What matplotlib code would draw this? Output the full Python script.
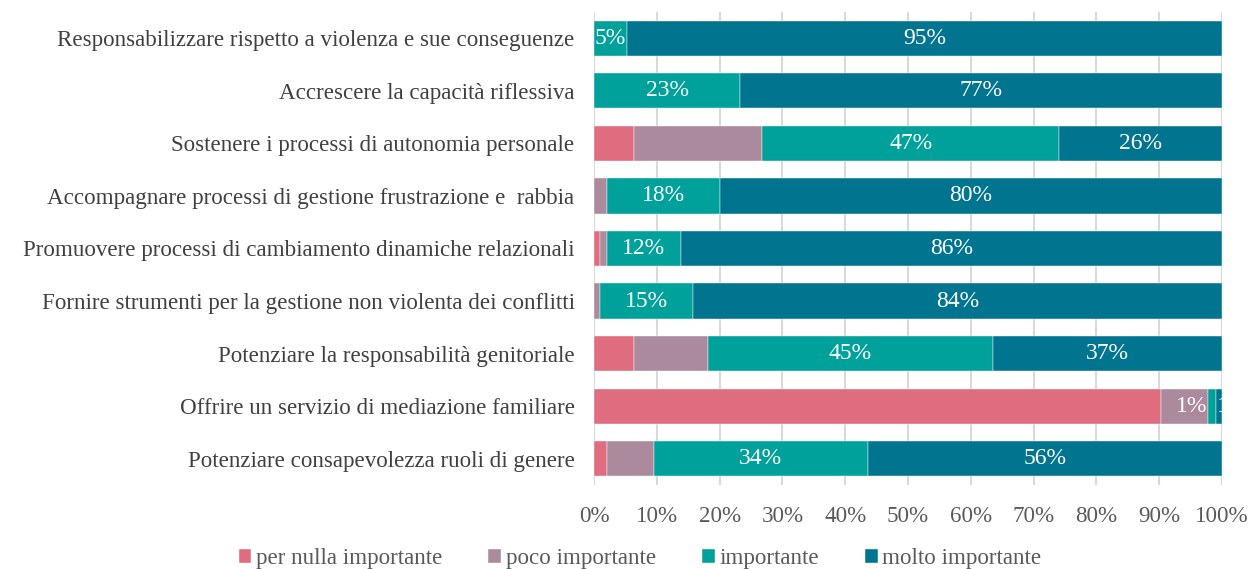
import numpy as np
import matplotlib.pyplot as plt

categories = [
    "Responsabilizzare rispetto a violenza e sue conseguenze",
    "Accrescere la capacità riflessiva",
    "Sostenere i processi di autonomia personale",
    "Accompagnare processi di gestione frustrazione e  rabbia",
    "Promuovere processi di cambiamento dinamiche relazionali",
    "Fornire strumenti per la gestione non violenta dei conflitti",
    "Potenziare la responsabilità genitoriale",
    "Offrire un servizio di mediazione familiare",
    "Potenziare consapevolezza ruoli di genere",
]
series = ["per nulla importante", "poco importante", "importante", "molto importante"]
colors = ["#E06C7F", "#AA8A9C", "#00A19A", "#01758F"]

per_nulla = [0, 0, 6.3, 0, 1, 0, 6.3, 90.3, 2.0]
poco = [0, 0, 20.5, 2.0, 1, 1, 11.9, 7.5, 7.5]
importante = [5.2, 23.3, 47.3, 18.1, 11.8, 14.8, 45.3, 1.2, 34.1]
molto = [94.8, 76.7, 25.9, 79.9, 86.2, 84.2, 36.5, 1.0, 56.4]

# labels as printed on the chart ('' = no label shown)
lab_per_nulla = ["", "", "", "", "", "", "", "", ""]
lab_poco = ["", "", "", "", "", "", "", "1%", ""]
lab_importante = ["5%", "23%", "47%", "18%", "12%", "15%", "45%", "", "34%"]
lab_molto = ["95%", "77%", "26%", "80%", "86%", "84%", "37%", "1%", "56%"]

values = [per_nulla, poco, importante, molto]
labels = [lab_per_nulla, lab_poco, lab_importante, lab_molto]

plt.rcParams['font.family'] = ['Liberation Serif', 'DejaVu Serif']

fig = plt.figure(figsize=(12.5, 5.69), dpi=100)
ax = fig.add_axes([0.4752, 0.1476, 0.5024, 0.8314])

y = np.arange(len(categories))
left = np.zeros(len(categories))
for i, (vals, labs, col, name) in enumerate(zip(values, labels, colors, series)):
    bars = ax.barh(y, vals, left=left, height=0.67, color=col, label=name,
                   edgecolor='white', linewidth=0.3, zorder=3)
    txts = ax.bar_label(bars, labels=labs, label_type='center', color='white',
                        fontsize=17)
    for t in txts:
        t.set_clip_on(True)
    if i == 1:
        txts[7].xyann = (5, 0)
    if i == 3:
        txts[7].xyann = (10, 0)
    left += np.array(vals)

ax.set_xlim(0, 100)
ax.set_ylim(len(categories) - 0.5, -0.5)
ax.set_yticks(y)
ax.set_yticklabels(categories, fontsize=16.6, color='#404040')
ax.set_xticks(np.arange(0, 101, 10))
ax.set_xticklabels([f"{v}%" for v in range(0, 101, 10)], fontsize=16.6, color='#595959')
ax.tick_params(axis='both', length=0)
ax.tick_params(axis='x', pad=15)
ax.tick_params(axis='y', pad=14)
ax.grid(axis='x', color='#D9D9D9', linewidth=1.5, zorder=0)
for s in ax.spines.values():
    s.set_visible(False)

fig.legend(loc='center', bbox_to_anchor=(0.512, 0.018), ncol=4, frameon=False,
           fontsize=16.6, handlelength=0.55, handleheight=0.55, handletextpad=0.2,
           columnspacing=2.0, labelcolor='#595959')

fig.savefig('out.png', dpi=100)
